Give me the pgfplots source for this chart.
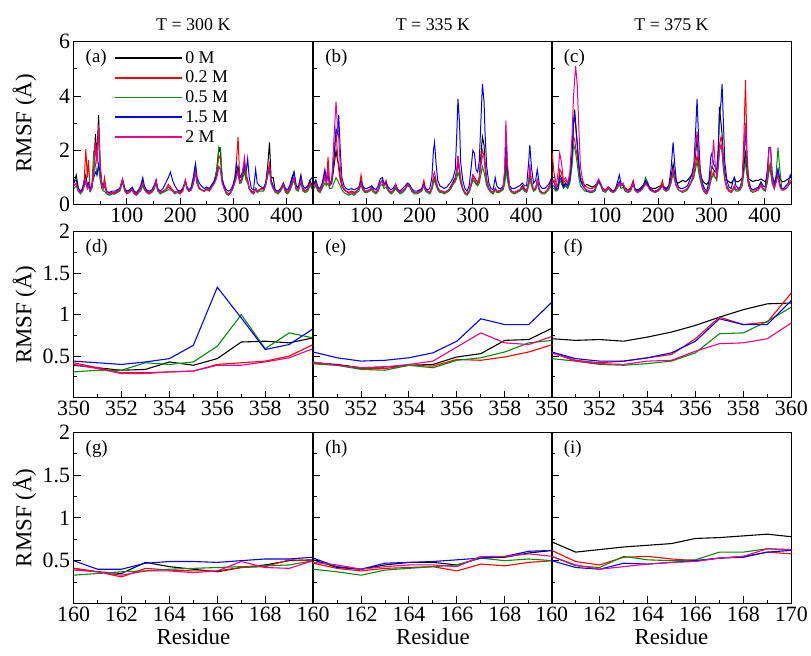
\documentclass[border=0pt]{standalone}
\usepackage{fontspec}
\setmainfont{Liberation Serif}
\usepackage{pgfplots}
\usepackage{pgfplotstable}
\pgfplotsset{compat=1.18}
\definecolor{cgreen}{RGB}{0,139,0}
\newcommand\tlfont{\fontsize{22}{24}\selectfont}

\pgfplotstableread{
r k a g b m
1 0.8 0.7 0.6 0.9 0.7
5 1.1 0.8 0.7 0.9 0.8
9 0.6 0.5 0.5 0.6 0.5
13 0.5 0.45 0.4 0.5 0.45
17 0.6 0.6 0.5 0.6 0.5
20 0.9 0.9 0.7 0.8 0.7
23 1.1 2.05 0.8 0.9 0.9
26 0.7 1.0 0.6 0.7 0.6
28 0.8 1.65 0.7 0.8 0.7
31 0.5 0.6 0.5 0.6 0.5
34 0.6 0.6 0.6 0.7 0.6
38 1.2 1.3 2.0 1.0 1.1
41 2.6 2.3 1.5 1.2 2.2
44 1.8 1.6 1.1 1.1 1.5
47 3.3 2.8 1.4 1.5 2.95
50 1.5 1.4 0.9 1.2 1.4
53 0.7 0.8 0.6 0.8 0.7
56 0.6 0.7 0.5 0.7 0.6
58 0.7 1.0 0.5 0.7 0.8
62 0.5 0.5 0.4 0.5 0.45
67 0.4 0.4 0.35 0.45 0.4
72 0.45 0.45 0.4 0.5 0.4
77 0.4 0.45 0.4 0.5 0.4
82 0.5 0.5 0.45 0.55 0.45
87 0.6 0.6 0.5 0.6 0.55
92 0.95 0.9 0.85 0.9 0.95
96 0.6 0.6 0.5 0.6 0.55
100 0.45 0.45 0.4 0.5 0.4
105 0.5 0.5 0.45 0.55 0.45
110 0.6 0.6 0.55 0.65 0.55
114 0.45 0.45 0.4 0.5 0.4
118 0.4 0.4 0.35 0.45 0.35
122 0.5 0.5 0.45 0.55 0.45
126 0.6 0.6 0.5 0.7 0.6
130 0.85 0.8 0.7 1.0 0.8
133 0.6 0.6 0.55 0.7 0.6
137 0.5 0.5 0.45 0.55 0.45
142 0.45 0.45 0.4 0.5 0.4
147 0.5 0.5 0.45 0.55 0.5
151 0.6 0.6 0.55 0.7 0.6
155 0.9 0.85 0.8 0.9 0.9
158 0.55 0.55 0.5 0.6 0.55
163 0.45 0.45 0.4 0.5 0.45
168 0.5 0.5 0.45 0.6 0.5
173 0.55 0.55 0.5 0.8 0.55
178 0.65 0.75 0.55 1.0 0.65
182 0.6 0.65 0.55 1.2 0.6
186 0.55 0.55 0.5 0.9 0.5
190 0.45 0.45 0.4 0.7 0.45
195 0.5 0.5 0.45 0.55 0.5
200 0.45 0.45 0.4 0.5 0.4
205 0.55 0.55 0.5 0.6 0.5
210 0.9 0.9 0.85 0.85 0.9
213 0.6 0.6 0.6 0.65 0.6
217 0.5 0.5 0.5 0.55 0.5
221 0.55 0.55 0.6 0.65 0.55
225 0.8 0.8 1.0 1.0 0.8
229 1.2 1.3 1.5 1.5 1.2
232 0.8 0.8 0.9 1.0 0.8
236 0.6 0.6 0.65 0.8 0.6
240 0.55 0.55 0.55 0.7 0.55
245 0.5 0.5 0.5 0.6 0.5
250 0.6 0.6 0.55 0.65 0.55
255 0.55 0.55 0.55 0.6 0.5
260 0.7 0.7 0.7 0.75 0.65
265 0.9 0.9 0.9 0.9 0.8
269 1.3 1.2 1.3 1.1 1.0
273 2.1 1.8 2.1 1.4 1.4
276 1.9 1.7 2.1 1.3 1.3
279 1.0 0.9 1.0 0.9 0.8
283 0.6 0.6 0.6 0.7 0.6
287 0.45 0.45 0.4 0.55 0.45
291 0.4 0.4 0.35 0.5 0.35
295 0.45 0.45 0.45 0.55 0.45
299 0.6 0.6 0.6 0.7 0.6
303 0.9 1.0 0.9 1.0 0.8
306 1.2 1.6 1.1 1.5 1.0
309 1.4 2.5 1.2 1.2 1.2
312 0.9 1.0 0.8 1.0 0.8
315 0.9 1.0 0.8 1.1 0.9
318 1.1 1.3 1.0 1.2 1.3
321 1.4 1.5 1.2 1.4 1.75
324 1.0 1.0 0.9 1.2 1.2
327 0.9 0.9 0.8 1.7 0.9
330 0.6 0.6 0.6 1.0 0.6
334 0.5 0.5 0.45 0.6 0.45
338 0.45 0.45 0.4 0.55 0.4
342 0.6 0.6 0.55 1.3 0.6
345 0.5 0.5 0.45 0.8 0.5
349 0.55 0.55 0.5 0.7 0.55
353 0.6 0.6 0.5 0.65 0.55
357 0.6 0.6 0.5 0.6 0.55
361 0.8 0.8 0.7 0.8 0.75
365 1.5 1.2 1.1 1.2 1.2
368 2.3 1.5 1.3 1.3 1.4
371 1.0 0.9 0.8 0.9 0.8
375 1.0 0.6 0.6 0.7 0.6
379 0.5 0.5 0.45 0.55 0.5
384 0.45 0.45 0.4 0.5 0.45
389 0.55 0.55 0.5 0.6 0.55
394 0.8 0.75 0.7 0.8 0.75
398 0.55 0.5 0.45 0.6 0.5
402 0.45 0.45 0.4 0.55 0.45
406 0.6 0.6 0.5 0.7 0.55
410 0.9 0.8 0.7 1.0 0.8
414 1.2 1.0 0.9 1.2 1.0
418 0.7 0.6 0.55 0.7 0.6
422 0.6 0.55 0.5 0.65 0.55
427 1.1 0.9 0.8 1.0 0.9
431 0.6 0.55 0.5 0.7 0.55
435 0.5 0.5 0.45 0.6 0.5
440 0.6 0.6 0.5 0.7 0.6
444 0.9 0.8 0.7 0.9 0.75
448 0.7 0.6 0.6 1.0 0.7
450 0.8 0.7 0.6 1.0 0.7
}\tabA

\pgfplotstableread{
r k a g b m
1 0.7 0.6 0.6 0.8 0.7
5 0.9 0.7 0.7 0.9 0.8
9 0.6 0.55 0.5 0.65 0.55
13 0.5 0.5 0.45 0.6 0.5
17 0.7 0.7 0.6 0.8 0.7
22 1.0 1.2 0.8 1.3 1.0
25 0.8 0.9 0.7 0.9 0.8
28 1.2 1.75 0.8 1.1 1.3
31 0.7 0.8 0.6 0.8 0.7
35 0.8 0.9 0.6 0.9 0.9
39 1.4 1.6 0.8 1.7 2.4
43 2.0 2.7 1.0 2.8 3.8
46 1.6 1.8 0.9 2.6 2.8
48 1.5 1.3 0.8 3.3 2.5
51 1.0 0.9 0.7 2.0 1.4
54 0.7 0.7 0.55 1.0 0.8
58 0.55 0.6 0.45 0.7 0.55
62 0.5 0.5 0.4 0.6 0.5
67 0.45 0.45 0.35 0.55 0.4
72 0.5 0.5 0.4 0.6 0.45
77 0.45 0.45 0.35 0.55 0.4
82 0.5 0.5 0.45 0.6 0.5
86 0.6 0.6 0.5 0.65 0.6
90 0.9 1.1 0.75 0.85 0.8
93 0.6 0.7 0.55 0.7 0.6
97 0.5 0.5 0.45 0.6 0.5
101 0.5 0.5 0.45 0.6 0.5
106 0.55 0.55 0.5 0.65 0.55
110 0.65 0.65 0.55 0.7 0.6
114 0.5 0.5 0.45 0.6 0.5
118 0.45 0.45 0.4 0.55 0.45
122 0.55 0.55 0.5 0.7 0.55
126 0.8 0.8 0.7 0.95 0.8
130 0.9 0.85 0.75 1.0 0.85
133 0.7 0.7 0.6 0.8 0.7
137 0.8 0.9 0.65 0.8 0.75
141 0.55 0.55 0.5 0.65 0.55
146 0.45 0.45 0.4 0.55 0.45
150 0.5 0.5 0.45 0.6 0.5
155 0.7 0.75 0.6 0.75 0.75
158 0.55 0.55 0.5 0.6 0.55
163 0.45 0.45 0.4 0.5 0.45
168 0.5 0.5 0.45 0.6 0.5
173 0.6 0.6 0.55 0.7 0.6
177 0.75 0.75 0.7 0.8 0.75
181 0.7 0.7 0.65 0.75 0.7
185 0.55 0.55 0.5 0.6 0.55
190 0.45 0.45 0.4 0.5 0.45
195 0.45 0.45 0.4 0.5 0.45
200 0.5 0.5 0.45 0.55 0.5
204 0.55 0.6 0.5 0.6 0.55
208 0.75 0.9 0.7 0.75 0.7
211 0.55 0.6 0.5 0.6 0.55
215 0.5 0.5 0.45 0.55 0.5
219 0.45 0.45 0.4 0.6 0.45
223 0.6 0.6 0.55 1.0 0.65
226 0.9 0.9 0.8 2.0 1.1
228 1.0 0.95 0.9 2.3 1.2
231 0.8 0.8 0.7 1.5 0.9
234 0.6 0.6 0.55 0.9 0.65
238 0.5 0.5 0.45 0.7 0.5
242 0.5 0.5 0.45 0.65 0.5
246 0.45 0.45 0.4 0.6 0.45
251 0.5 0.5 0.45 0.65 0.5
255 0.55 0.55 0.5 0.75 0.55
259 0.7 0.65 0.6 0.85 0.65
263 0.85 0.8 0.75 1.0 0.8
267 1.0 0.9 0.85 1.3 0.9
270 1.3 1.2 1.0 2.7 1.3
272 1.6 1.8 1.2 3.9 1.8
275 1.2 1.3 1.0 3.0 1.3
277 0.9 0.9 0.8 1.6 1.0
281 0.6 0.6 0.55 0.9 0.6
285 0.45 0.45 0.4 0.6 0.45
289 0.4 0.4 0.35 0.5 0.4
293 0.5 0.5 0.45 0.7 0.5
297 0.8 0.75 0.7 1.4 0.8
300 1.1 1.0 0.9 2.0 1.1
303 1.0 0.9 0.85 1.9 1.0
306 0.9 0.8 0.75 1.3 0.9
309 0.8 0.75 0.7 1.2 0.8
312 1.0 0.9 0.8 1.6 1.0
315 1.8 1.6 1.1 3.0 1.4
318 2.5 2.0 1.4 4.45 1.8
321 2.2 1.8 1.2 3.8 1.8
323 1.5 1.3 1.0 2.6 1.5
326 0.9 0.8 0.7 1.4 0.9
330 0.6 0.6 0.55 0.8 0.6
334 0.5 0.5 0.45 0.6 0.5
338 0.45 0.45 0.4 0.55 0.45
342 0.6 0.6 0.55 1.0 0.6
345 0.5 0.5 0.45 0.7 0.5
349 0.5 0.5 0.45 0.6 0.5
353 0.55 0.55 0.5 0.6 0.55
357 0.6 0.6 0.55 0.7 0.65
360 0.9 1.0 0.8 1.2 1.4
362 1.6 2.0 1.3 2.6 3.1
365 1.0 1.1 0.9 1.3 1.5
369 0.6 0.6 0.55 0.7 0.65
373 0.5 0.5 0.45 0.6 0.5
378 0.45 0.45 0.4 0.6 0.45
383 0.5 0.5 0.45 0.65 0.5
388 0.55 0.55 0.5 0.7 0.55
393 0.7 0.65 0.6 0.8 0.65
397 0.6 0.55 0.5 0.7 0.55
401 0.5 0.5 0.45 0.7 0.5
405 0.8 0.8 0.7 1.6 0.9
407 1.2 1.2 1.0 2.2 1.5
410 0.8 0.8 0.7 1.4 0.9
414 0.55 0.55 0.5 0.8 0.55
418 0.6 0.6 0.55 0.9 0.6
421 0.9 0.85 0.8 1.3 0.9
425 0.55 0.55 0.5 0.75 0.55
430 0.45 0.45 0.4 0.6 0.45
435 0.45 0.45 0.4 0.6 0.45
440 0.55 0.55 0.5 0.7 0.55
444 0.7 0.7 0.6 0.8 0.7
448 0.9 1.0 0.7 1.0 0.8
450 1.0 1.2 0.8 0.9 0.9
}\tabB

\pgfplotstableread{
r k a g b m
1 0.8 1.9 0.6 0.7 0.8
4 0.9 1.2 0.6 0.7 0.9
8 0.6 0.8 0.5 0.55 0.6
12 0.7 0.7 0.55 0.6 1.2
15 1.1 1.3 0.9 1.0 1.9
18 1.0 1.2 0.8 0.9 1.6
22 0.7 0.8 0.6 0.65 0.9
26 0.8 0.9 0.7 0.75 1.0
30 0.7 0.8 0.6 0.7 0.8
34 0.9 1.0 0.8 0.9 1.2
38 1.6 1.8 1.4 1.8 2.5
41 3.0 2.5 2.2 3.0 4.0
43 3.5 2.4 2.1 3.3 4.6
45 3.0 2.1 1.9 2.9 5.1
48 2.2 1.8 1.5 2.2 4.4
51 1.4 1.3 1.0 1.5 2.8
54 0.9 1.0 0.7 0.9 1.4
58 0.8 0.9 0.6 0.7 0.9
62 0.7 0.7 0.5 0.6 0.6
66 0.75 0.65 0.5 0.5 0.55
71 0.7 0.6 0.45 0.5 0.5
76 0.65 0.6 0.45 0.5 0.5
81 0.7 0.65 0.5 0.55 0.55
85 0.8 0.8 0.7 0.75 0.8
88 0.9 0.9 0.85 0.9 0.95
92 0.75 0.75 0.7 0.75 0.8
96 0.6 0.6 0.5 0.55 0.55
101 0.55 0.55 0.45 0.5 0.5
106 0.65 0.65 0.6 0.65 0.65
110 0.6 0.6 0.5 0.55 0.55
115 0.5 0.5 0.45 0.5 0.45
119 0.55 0.55 0.5 0.55 0.5
123 0.7 0.7 0.6 0.8 0.65
127 0.85 0.8 0.75 1.1 0.8
130 0.7 0.7 0.6 0.8 0.7
134 0.75 0.75 0.65 0.7 0.8
138 0.6 0.6 0.5 0.55 0.55
143 0.55 0.55 0.45 0.5 0.5
148 0.6 0.6 0.5 0.55 0.55
153 0.85 0.9 0.75 0.8 0.8
156 0.6 0.6 0.55 0.6 0.55
161 0.55 0.5 0.45 0.5 0.45
166 0.6 0.55 0.5 0.55 0.5
171 0.7 0.65 0.6 0.65 0.6
176 0.85 0.8 1.0 0.9 0.75
180 0.75 0.7 0.85 0.8 0.7
184 0.65 0.6 0.6 0.6 0.55
189 0.6 0.55 0.5 0.5 0.5
194 0.6 0.5 0.45 0.5 0.45
199 0.65 0.55 0.5 0.5 0.5
204 0.7 0.65 0.6 0.6 0.6
208 0.75 0.9 0.75 0.7 0.7
211 0.65 0.6 0.55 0.6 0.55
215 0.6 0.55 0.5 0.55 0.5
220 0.7 0.6 0.55 0.7 0.6
224 1.0 0.8 0.8 1.3 0.9
228 1.5 1.2 1.2 2.3 1.3
231 1.1 0.9 0.9 1.5 1.0
234 0.85 0.7 0.7 0.9 0.7
238 0.8 0.55 0.55 0.65 0.55
242 0.85 0.5 0.5 0.6 0.5
246 0.9 0.5 0.45 0.6 0.5
251 0.85 0.55 0.5 0.65 0.55
255 0.9 0.6 0.55 0.7 0.6
259 1.0 0.75 0.7 0.9 0.7
263 1.1 0.9 0.85 1.1 0.9
267 1.3 1.1 1.0 1.5 1.3
270 1.8 1.5 1.3 2.6 2.0
273 2.5 1.8 1.6 3.9 2.7
276 1.6 1.4 1.2 2.4 1.8
279 1.1 1.0 0.9 1.3 1.1
283 0.9 0.7 0.6 0.8 0.65
287 0.8 0.5 0.45 0.6 0.45
291 0.75 0.45 0.4 0.5 0.4
295 0.85 0.6 0.55 0.8 0.6
299 1.2 0.9 0.9 1.8 1.1
301 1.4 1.1 1.0 1.9 1.4
304 1.3 1.2 1.1 1.5 2.4
307 1.2 1.0 1.0 1.4 1.5
310 1.2 1.0 0.9 1.2 1.0
313 2.0 1.6 1.4 2.2 1.5
315 3.6 2.2 2.0 3.2 2.0
318 3.0 2.5 2.2 3.8 2.2
320 2.6 2.3 1.9 4.45 2.0
322 1.8 1.6 1.4 3.3 1.6
325 1.2 1.0 0.9 1.6 1.0
329 0.9 0.7 0.6 0.9 0.6
333 0.85 0.55 0.5 0.65 0.5
337 0.8 0.5 0.45 0.6 0.45
341 0.9 0.6 0.55 0.9 0.6
343 1.0 0.7 0.6 1.0 0.7
346 0.85 0.55 0.5 0.7 0.55
350 0.85 0.55 0.5 0.6 0.55
354 0.9 0.6 0.55 0.65 0.6
358 1.0 1.0 0.7 0.9 0.9
361 1.4 2.5 1.2 1.8 2.0
364 2.0 4.6 1.6 2.8 3.0
367 1.2 1.8 1.0 1.5 1.4
370 0.95 0.9 0.7 0.8 0.7
374 0.9 0.6 0.5 0.6 0.55
378 0.85 0.55 0.45 0.55 0.5
383 0.9 0.55 0.5 0.6 0.5
388 0.9 0.6 0.55 0.65 0.55
393 0.95 0.8 0.7 0.85 0.7
397 0.9 0.6 0.55 0.7 0.6
401 0.85 0.55 0.5 0.65 0.55
405 1.0 0.9 0.8 1.3 1.0
408 1.3 1.5 1.2 2.1 2.0
411 1.4 1.2 1.5 2.1 2.1
414 1.0 0.8 0.8 1.2 1.0
418 0.85 0.6 0.6 0.7 0.6
421 0.9 0.8 1.0 1.0 0.8
425 1.3 1.1 2.1 1.3 1.1
428 1.0 0.7 1.4 0.8 0.7
432 0.85 0.55 0.6 0.6 0.55
436 0.85 0.55 0.55 0.6 0.55
440 0.9 0.6 0.6 0.7 0.6
444 0.95 0.7 0.7 0.8 0.7
448 1.0 0.8 0.8 1.1 0.9
450 1.0 0.9 0.8 1.0 0.9
}\tabC

\pgfplotstableread{
r k a g b m
350 0.39 0.42 0.31 0.44 0.40
351 0.36 0.36 0.33 0.42 0.35
352 0.33 0.30 0.33 0.40 0.29
353 0.34 0.30 0.42 0.43 0.29
354 0.43 0.31 0.40 0.47 0.31
355 0.39 0.32 0.43 0.63 0.32
356 0.47 0.40 0.62 1.33 0.39
357 0.67 0.42 1.00 0.96 0.39
358 0.68 0.44 0.59 0.58 0.43
359 0.66 0.50 0.78 0.64 0.48
360 0.72 0.64 0.72 0.83 0.59
}\tabD

\pgfplotstableread{
r k a g b m
350 0.42 0.41 0.41 0.55 0.43
351 0.40 0.39 0.39 0.48 0.39
352 0.36 0.35 0.34 0.44 0.36
353 0.37 0.35 0.33 0.45 0.37
354 0.39 0.39 0.39 0.48 0.40
355 0.40 0.38 0.36 0.54 0.44
356 0.49 0.46 0.45 0.68 0.61
357 0.53 0.45 0.48 0.95 0.78
358 0.69 0.49 0.55 0.88 0.66
359 0.70 0.55 0.66 0.88 0.64
360 0.84 0.64 0.69 1.16 0.74
}\tabE

\pgfplotstableread{
r k a g b m
350 0.71 0.55 0.47 0.55 0.54
351 0.69 0.45 0.44 0.47 0.44
352 0.70 0.42 0.40 0.44 0.41
353 0.68 0.44 0.39 0.44 0.40
354 0.73 0.48 0.41 0.48 0.44
355 0.79 0.52 0.44 0.54 0.45
356 0.87 0.71 0.54 0.68 0.56
357 0.97 0.97 0.77 0.95 0.65
358 1.06 0.88 0.78 0.88 0.66
359 1.13 0.91 0.92 0.88 0.71
360 1.14 1.26 1.09 1.17 0.90
}\tabF

\pgfplotstableread{
r k a g b m
160 0.41 0.41 0.33 0.50 0.39
161 0.37 0.37 0.35 0.40 0.37
162 0.35 0.31 0.37 0.40 0.33
163 0.48 0.41 0.38 0.47 0.38
164 0.43 0.39 0.40 0.49 0.38
165 0.40 0.38 0.41 0.49 0.36
166 0.37 0.38 0.42 0.48 0.38
167 0.42 0.42 0.43 0.50 0.49
168 0.45 0.43 0.44 0.52 0.42
169 0.50 0.51 0.45 0.52 0.41
170 0.51 0.50 0.50 0.54 0.50
}\tabG

\pgfplotstableread{
r k a g b m
160 0.51 0.47 0.40 0.53 0.48
161 0.42 0.41 0.37 0.43 0.45
162 0.40 0.38 0.33 0.40 0.40
163 0.45 0.41 0.39 0.47 0.43
164 0.48 0.42 0.41 0.48 0.45
165 0.48 0.43 0.43 0.49 0.45
166 0.45 0.38 0.45 0.51 0.43
167 0.53 0.46 0.53 0.53 0.55
168 0.54 0.44 0.50 0.55 0.55
169 0.59 0.48 0.52 0.61 0.58
170 0.62 0.50 0.50 0.62 0.55
}\tabH

\pgfplotstableread{
r k a g b m
160 0.72 0.62 0.55 0.50 0.55
161 0.60 0.49 0.44 0.42 0.45
162 0.63 0.45 0.42 0.40 0.40
163 0.66 0.54 0.55 0.47 0.43
164 0.68 0.55 0.51 0.46 0.46
165 0.70 0.52 0.50 0.48 0.48
166 0.76 0.50 0.51 0.50 0.49
167 0.77 0.53 0.60 0.53 0.53
168 0.79 0.55 0.60 0.54 0.55
169 0.81 0.60 0.64 0.60 0.64
170 0.78 0.58 0.62 0.62 0.63
}\tabI

\pgfplotsset{
  base/.style={scale only axis, width=241pt, anchor=north west,
    axis line style={line width=1.3pt},
    tick align=inside, xtick pos=bottom, ytick pos=left,
    major tick length=7pt, minor tick length=3.5pt,
    every tick/.style={line width=1pt, black},
    tick label style={font=\tlfont},
    /pgf/number format/assume math mode=true,
    every axis y label/.style={at={(axis description cs:-0.205,0.5)}, rotate=90, anchor=center, font=\fontsize{23}{24}\selectfont},
    xlabel style={font=\fontsize{23}{24}\selectfont},
    title style={font=\fontsize{18}{20}\selectfont, yshift=2pt},
  },
  toprow/.style={base, height=164pt, xmin=0, xmax=450, ymin=0, ymax=6,
    xtick={100,200,300,400}, minor xtick={50,150,250,350},
    ytick={0,2,4,6}, minor ytick={1,3,5}},
  midrow/.style={base, height=167pt, xmin=350, xmax=360, ymin=0, ymax=2,
    xtick={350,352,354,356,358,360}, minor xtick={351,353,355,357,359},
    ytick={0.5,1,1.5,2}, minor ytick={0.25,0.75,1.25,1.75}},
  botrow/.style={base, height=172pt, xmin=160, xmax=170, ymin=0, ymax=2,
    xtick={160,162,164,166,168,170}, minor xtick={161,163,165,167,169},
    ytick={0.5,1,1.5,2}, minor ytick={0.25,0.75,1.25,1.75}},
  noy/.style={yticklabels={}},
}
\newcommand\fiveplots[2]{%
  \addplot[forget plot, draw=black, line width=#2] table[x=r,y=k] {#1};
  \addplot[forget plot, draw=red, line width=#2] table[x=r,y=a] {#1};
  \addplot[forget plot, draw=cgreen, line width=#2] table[x=r,y=g] {#1};
  \addplot[forget plot, draw=blue, line width=#2] table[x=r,y=b] {#1};
  \addplot[forget plot, draw=magenta, line width=#2] table[x=r,y=m] {#1};
}
\newcommand\plabel[1]{\node[anchor=north west, inner sep=0pt, font=\fontsize{19}{20}\selectfont] at (rel axis cs:0.05,0.955) {#1};}

\begin{document}
\begin{tikzpicture}
\path (0pt,0pt) rectangle (811pt,-659pt);
% top row
\begin{axis}[toprow, at={(74pt,-42pt)}, title={T = 300 K}, ylabel={RMSF (Å)},
  legend style={at={(rel axis cs:0.155,0.968)}, anchor=north west, draw=none, fill=none,
    font=\fontsize{18}{19}\selectfont, row sep=2.5pt, cells={anchor=west}},
  legend image code/.code={\draw[#1] (0pt,0pt) -- (58pt,0pt); \path (0pt,0pt) -- (68pt,0pt);}]
\addlegendimage{draw=black, line width=1.8pt}
\addlegendentry{0 M}
\addlegendimage{draw=red, line width=1.8pt}
\addlegendentry{0.2 M}
\addlegendimage{draw=cgreen, line width=1.8pt}
\addlegendentry{0.5 M}
\addlegendimage{draw=blue, line width=1.8pt}
\addlegendentry{1.5 M}
\addlegendimage{draw=magenta, line width=1.8pt}
\addlegendentry{2 M}
\fiveplots{\tabA}{1pt}
\plabel{(a)}
\end{axis}
\begin{axis}[toprow, noy, at={(315pt,-42pt)}, title={T = 335 K}]
\fiveplots{\tabB}{1pt}
\plabel{(b)}
\end{axis}
\begin{axis}[toprow, noy, at={(555pt,-42pt)}, title={T = 375 K}]
\fiveplots{\tabC}{1pt}
\plabel{(c)}
\end{axis}
% middle row
\begin{axis}[midrow, at={(74pt,-233pt)}, ylabel={RMSF (Å)}, xticklabels={350,352,354,356,358,{}}]
\fiveplots{\tabD}{1.1pt}
\plabel{(d)}
\end{axis}
\begin{axis}[midrow, noy, at={(315pt,-233pt)}, xticklabels={350,352,354,356,358,{}}]
\fiveplots{\tabE}{1.1pt}
\plabel{(e)}
\end{axis}
\begin{axis}[midrow, noy, at={(555pt,-233pt)}]
\fiveplots{\tabF}{1.1pt}
\plabel{(f)}
\end{axis}
% bottom row
\begin{axis}[botrow, at={(74pt,-435pt)}, ylabel={RMSF (Å)}, xlabel={Residue}, xticklabels={160,162,164,166,168,{}}]
\fiveplots{\tabG}{1.1pt}
\plabel{(g)}
\end{axis}
\begin{axis}[botrow, noy, at={(315pt,-435pt)}, xlabel={Residue}, xticklabels={160,162,164,166,168,{}}]
\fiveplots{\tabH}{1.1pt}
\plabel{(h)}
\end{axis}
\begin{axis}[botrow, noy, at={(555pt,-435pt)}, xlabel={Residue}]
\fiveplots{\tabI}{1.1pt}
\plabel{(i)}
\end{axis}
\end{tikzpicture}
\end{document}
